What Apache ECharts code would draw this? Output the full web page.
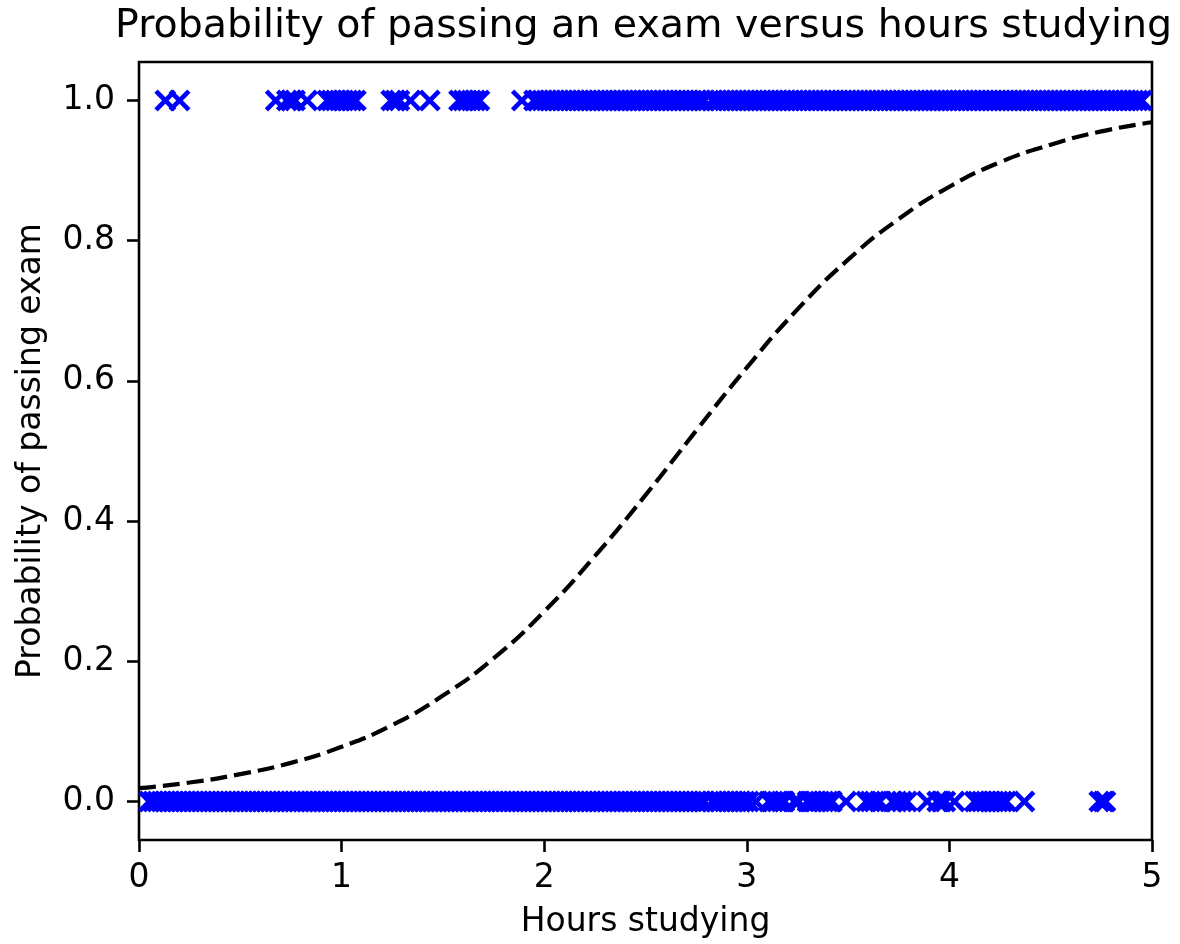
<!DOCTYPE html>
<html>
<head>
<meta charset="utf-8">
<script src="https://cdn.jsdelivr.net/npm/echarts@6/dist/echarts.min.js"></script>
<style>
  html, body { margin: 0; padding: 0; background: #ffffff; }
  #chart { width: 1180px; height: 944px; }
</style>
</head>
<body>
<div id="chart"></div>
<script>
// Hours studied by students who passed (plotted at probability 1.0)
const passedHours = [
  0.13, 0.20,
  0.675, 0.73, 0.75, 0.77, 0.83, 0.93, 0.95, 0.97, 0.99, 1.01, 1.03, 1.05, 1.07,
  1.245, 1.265, 1.285, 1.34, 1.435,
  1.58, 1.60, 1.62, 1.64, 1.66, 1.68,
  1.89, 1.95, 1.97, 1.99,
  2.01, 2.03, 2.05, 2.07, 2.09, 2.11, 2.13, 2.15, 2.17, 2.19, 2.21, 2.23, 2.25, 2.27, 2.29,
  2.31, 2.33, 2.35, 2.37, 2.39, 2.41, 2.43, 2.45, 2.47, 2.49, 2.51, 2.53, 2.55, 2.57, 2.59,
  2.61, 2.63, 2.65, 2.67, 2.69, 2.71, 2.73, 2.75, 2.77, 2.79, 2.83, 2.85, 2.87, 2.89,
  2.91, 2.93, 2.95, 2.97, 2.99, 3.01, 3.03, 3.05, 3.07, 3.09, 3.11, 3.13, 3.15, 3.17, 3.19,
  3.21, 3.23, 3.25, 3.27, 3.29, 3.31, 3.33, 3.35, 3.37, 3.39, 3.41, 3.43, 3.45, 3.47, 3.49,
  3.51, 3.53, 3.55, 3.57, 3.59, 3.61, 3.63, 3.65, 3.67, 3.69, 3.71, 3.73, 3.75, 3.77, 3.79,
  3.81, 3.83, 3.85, 3.87, 3.89, 3.91, 3.93, 3.95, 3.97, 3.99, 4.01, 4.03, 4.05, 4.07, 4.09,
  4.11, 4.13, 4.15, 4.17, 4.19, 4.21, 4.23, 4.25, 4.27, 4.29, 4.31, 4.33, 4.35, 4.37, 4.39,
  4.41, 4.43, 4.45, 4.47, 4.49, 4.51, 4.53, 4.55, 4.57, 4.59, 4.61, 4.63, 4.65, 4.67, 4.69,
  4.71, 4.73, 4.75, 4.77, 4.79, 4.81, 4.83, 4.85, 4.87, 4.89, 4.91, 4.93, 4.95
];

// Hours studied by students who failed (plotted at probability 0.0)
const failedHours = [
  0.05, 0.07, 0.09, 0.11, 0.13, 0.15, 0.17, 0.19, 0.21, 0.23, 0.25, 0.27, 0.29, 0.31, 0.33,
  0.35, 0.37, 0.39, 0.41, 0.43, 0.45, 0.47, 0.49, 0.51, 0.53, 0.55, 0.57, 0.59, 0.61, 0.63,
  0.65, 0.67, 0.69, 0.71, 0.73, 0.75, 0.77, 0.79, 0.81, 0.83, 0.85, 0.87, 0.89, 0.91, 0.93,
  0.95, 0.97, 0.99, 1.01, 1.03, 1.05, 1.07, 1.09, 1.11, 1.13, 1.15, 1.17, 1.19, 1.21, 1.23,
  1.25, 1.27, 1.29, 1.31, 1.33, 1.35, 1.37, 1.39, 1.41, 1.43, 1.45, 1.47, 1.49, 1.51, 1.53,
  1.55, 1.57, 1.59, 1.61, 1.63, 1.65, 1.67, 1.69, 1.71, 1.73, 1.75, 1.77, 1.79, 1.81, 1.83,
  1.85, 1.87, 1.89, 1.91, 1.93, 1.95, 1.97, 1.99, 2.01, 2.03, 2.05, 2.07, 2.09, 2.11, 2.13,
  2.15, 2.17, 2.19, 2.21, 2.23, 2.25, 2.27, 2.29, 2.31, 2.33, 2.35, 2.37, 2.39, 2.41, 2.43,
  2.45, 2.47, 2.49, 2.51, 2.53, 2.55, 2.57, 2.59, 2.61, 2.63, 2.65, 2.67, 2.69, 2.71, 2.73,
  2.75, 2.77, 2.79,
  2.83, 2.85, 2.87, 2.89, 2.91, 2.93, 2.95, 2.97, 2.99, 3.01,
  3.045, 3.11, 3.13, 3.15, 3.17, 3.185, 3.235, 3.255, 3.30, 3.32, 3.34, 3.36, 3.38, 3.40, 3.42,
  3.49, 3.59, 3.61, 3.63, 3.655, 3.72, 3.74, 3.765, 3.79, 3.89, 3.94, 3.96, 3.98, 4.025,
  4.125, 4.14, 4.16, 4.18, 4.20, 4.22, 4.24, 4.26, 4.28, 4.37,
  4.74, 4.76, 4.77
];

// Fitted logistic curve, sampled along the hours axis
const curveHours = [0, 0.25, 0.5, 0.75, 1, 1.25, 1.5, 1.75, 2, 2.25, 2.5,
                    2.75, 3, 3.25, 3.5, 3.75, 4, 4.25, 4.5, 4.75, 5];
const curveProb = [0.019, 0.027, 0.039, 0.055, 0.078, 0.109, 0.151, 0.204, 0.271, 0.350, 0.437,
                   0.529, 0.619, 0.702, 0.773, 0.831, 0.877, 0.912, 0.937, 0.956, 0.969];

const yTicks = [0, 0.2, 0.4, 0.6, 0.8, 1.0];

const FONT = 'DejaVu Sans';

// Filled "x" glyph: two crossing bars in a 100x100 box
const cross = 'path://M0,15L15,0L50,35L85,0L100,15L65,50L100,85L85,100L50,65L15,100L0,85L35,50Z';

const markerStyle = {
  color: '#0000ff',
  opacity: 1,
  borderWidth: 0
};

const chart = echarts.init(document.getElementById('chart'), null, { renderer: 'canvas' });

chart.setOption({
  animation: false,
  backgroundColor: '#ffffff',
  title: {
    text: 'Probability of passing an exam versus hours studying',
    left: 115,
    top: 7,
    padding: 0,
    textStyle: { fontFamily: FONT, fontSize: 39.5, fontWeight: 'normal', color: '#000000' }
  },
  grid: {
    left: 139, right: 28, top: 62, bottom: 103,
    show: true,
    borderColor: '#000000',
    borderWidth: 2.6,
    backgroundColor: 'transparent'
  },
  xAxis: {
    type: 'value',
    min: 0, max: 5, interval: 1,
    name: 'Hours studying',
    nameLocation: 'middle',
    nameGap: 66,
    nameTextStyle: { fontFamily: FONT, fontSize: 33, color: '#000000' },
    axisLine: { show: false, onZero: false },
    axisTick: { show: true, inside: false, length: 12, lineStyle: { color: '#000000', width: 2.6 } },
    axisLabel: {
      margin: 22,
      fontFamily: FONT, fontSize: 33, color: '#000000',
      formatter: v => String(v)
    },
    splitLine: { show: false }
  },
  yAxis: {
    type: 'value',
    min: -0.055, max: 1.055,
    name: 'Probability of passing exam',
    nameLocation: 'middle',
    nameGap: 91,
    nameRotate: 90,
    nameTextStyle: { fontFamily: FONT, fontSize: 33, color: '#000000' },
    axisLine: { show: false, onZero: false },
    axisTick: {
      show: true, inside: false, length: 12,
      customValues: yTicks,
      lineStyle: { color: '#000000', width: 2.6 }
    },
    axisLabel: {
      margin: 24,
      fontFamily: FONT, fontSize: 33, color: '#000000',
      customValues: yTicks,
      formatter: v => v.toFixed(1)
    },
    splitLine: { show: false }
  },
  series: [
    {
      name: 'passed',
      type: 'scatter',
      symbol: cross,
      symbolSize: 22,
      itemStyle: markerStyle,
      emphasis: { disabled: true },
      data: passedHours.map(h => [h, 1])
    },
    {
      name: 'failed',
      type: 'scatter',
      symbol: cross,
      symbolSize: 22,
      itemStyle: markerStyle,
      emphasis: { disabled: true },
      data: failedHours.map(h => [h, 0])
    },
    {
      name: 'fit',
      type: 'line',
      smooth: true,
      showSymbol: false,
      z: 5,
      lineStyle: { color: '#000000', width: 4.2, type: [17, 7] },
      emphasis: { disabled: true },
      data: curveHours.map((h, i) => [h, curveProb[i]])
    }
  ]
});
</script>
</body>
</html>
